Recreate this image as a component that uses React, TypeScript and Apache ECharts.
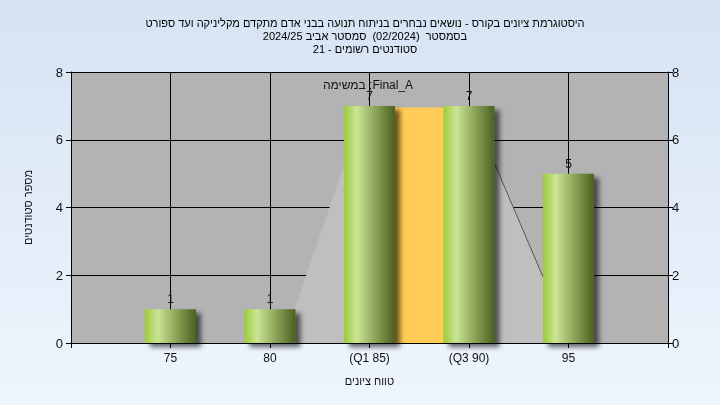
import React, { useEffect, useRef } from "react";
import * as echarts from "echarts";

const titleLines = [
  "היסטוגרמת ציונים בקורס - נושאים נבחרים בניתוח תנועה בבני אדם מתקדם מקליניקה ועד ספורט",
  "בסמסטר  (02/2024)  סמסטר אביב 2024/25",
  "סטודנטים רשומים - 21",
];
const scores = [75, 80, 85, 90, 95];
const counts = [1, 1, 7, 7, 5];
const scoreLabels = ["75", "80", "(Q1 85)", "(Q3 90)", "95"];
const iqrCenter = [87.5];
const iqrHeight = [6.95];
const curveX = [80.65, 83.75, 85, 90, 91.28, 93.72, 95];
const curveY = [0, 5.3, 6.9, 6.9, 5.3, 1.95, 0.1];
const yAxisName = "מספר סטודנטים";
const xAxisName = "טווח ציונים";
const noteText = "במשימה ;Final_A";

const FONT = "'Liberation Sans', 'DejaVu Sans', Arial, sans-serif";

export default function App() {
  const ref = useRef<HTMLDivElement>(null);
  useEffect(() => {
    if (!ref.current) return;
    const chart = echarts.init(ref.current, null, { renderer: "svg" });
    const labelMap: Record<number, string> = {};
    scores.forEach((s, i) => (labelMap[s] = scoreLabels[i]));
    const barGrad = new echarts.graphic.LinearGradient(0, 0, 1, 0, [
      { offset: 0, color: "#9ccc3a" },
      { offset: 0.25, color: "#cae595" },
      { offset: 0.6, color: "#8fa65a" },
      { offset: 1, color: "#4b6121" },
    ]);
    const axisCommon = {
      type: "value",
      min: 70,
      max: 100,
      interval: 5,
    };
    chart.setOption({
      animation: false,
      textStyle: { fontFamily: FONT },
      graphic: [
        {
          type: "rect",
          z: -100,
          silent: true,
          shape: { x: 0, y: 0, width: 720, height: 405 },
          style: {
            fill: new echarts.graphic.LinearGradient(0, 0, 0, 1, [
              { offset: 0, color: "#d6e3f3" },
              { offset: 1, color: "#eef5fd" },
            ]),
          },
        },
        {
          type: "text",
          x: 368,
          y: 85,
          z: 100,
          style: {
            text: noteText,
            fill: "#111",
            font: "12px " + FONT,
            align: "center",
            verticalAlign: "middle",
          },
        },
      ],
      title: {
        text: titleLines.join("\n"),
        left: 360,
        top: 11,
        textAlign: "center",
        textStyle: {
          fontSize: 11,
          fontWeight: "normal",
          color: "#000",
          lineHeight: 13,
          fontFamily: FONT,
        },
      },
      grid: {
        left: 71,
        right: 52,
        top: 72,
        bottom: 62,
        show: true,
        backgroundColor: "#b3b3b3",
        borderWidth: 0,
      },
      xAxis: [
        {
          ...axisCommon,
          position: "bottom",
          name: xAxisName,
          nameLocation: "middle",
          nameGap: 32,
          nameTextStyle: { color: "#111", fontSize: 11 },
          axisLine: { show: true, onZero: false, lineStyle: { color: "#000", width: 1 } },
          axisTick: { show: true, length: 5, lineStyle: { color: "#000" } },
          axisLabel: {
            color: "#111",
            fontSize: 12,
            margin: 9,
            formatter: (v: number) => labelMap[v] ?? "",
          },
          splitLine: { show: true, lineStyle: { color: "#000", width: 1 } },
        },
        {
          ...axisCommon,
          show: false,
        },
      ],
      yAxis: [
        {
          type: "value",
          min: 0,
          max: 8,
          interval: 2,
          position: "left",
          name: yAxisName,
          nameLocation: "middle",
          nameRotate: 90,
          nameGap: 38,
          nameTextStyle: { color: "#111", fontSize: 11 },
          axisLine: { show: true, lineStyle: { color: "#000" } },
          axisTick: { show: true, length: 5, lineStyle: { color: "#000" } },
          axisLabel: { color: "#111", fontSize: 13, margin: 8 },
          splitLine: { show: true, lineStyle: { color: "#000", width: 1 } },
        },
        {
          type: "value",
          min: 0,
          max: 8,
          interval: 2,
          position: "right",
          axisLine: { show: true, lineStyle: { color: "#000" } },
          axisTick: { show: true, length: 5, lineStyle: { color: "#000" } },
          axisLabel: { color: "#111", fontSize: 13, margin: 4 },
          splitLine: { show: false },
        },
      ],
      series: [
        {
          type: "line",
          xAxisIndex: 1,
          yAxisIndex: 0,
          z: 1,
          symbol: "none",
          silent: true,
          data: curveX.map((x, i) => [x, curveY[i]]),
          lineStyle: { width: 0, opacity: 0 },
          areaStyle: { color: "#bfbfbf", opacity: 1 },
        },
        {
          type: "line",
          xAxisIndex: 1,
          yAxisIndex: 0,
          z: 2,
          symbol: "none",
          silent: true,
          data: curveX.slice(4, 6).map((x, i) => [x, curveY[i + 4]]),
          lineStyle: { width: 1, color: "#555" },
        },
        {
          type: "bar",
          xAxisIndex: 1,
          yAxisIndex: 0,
          z: 3,
          barWidth: 50,
          data: iqrCenter.map((x, i) => [x, iqrHeight[i]]),
          itemStyle: { color: "#ffcc55" },
        },
        {
          type: "bar",
          xAxisIndex: 0,
          yAxisIndex: 0,
          z: 4,
          barWidth: 51,
          data: scores.map((s, i) => [s, counts[i]]),
          itemStyle: {
            color: barGrad,
            shadowColor: "rgba(0,0,0,0.6)",
            shadowBlur: 5,
            shadowOffsetX: 5,
            shadowOffsetY: 4,
          },
          label: {
            show: true,
            position: "top",
            distance: 4,
            color: "#111",
            fontSize: 12,
            formatter: (p: any) => String(p.value[1]),
          },
        },
      ],
    });
    return () => chart.dispose();
  }, []);
  return (
    <div
      ref={ref}
      style={{ position: "fixed", left: 0, top: 0, width: 720, height: 405 }}
    />
  );
}
